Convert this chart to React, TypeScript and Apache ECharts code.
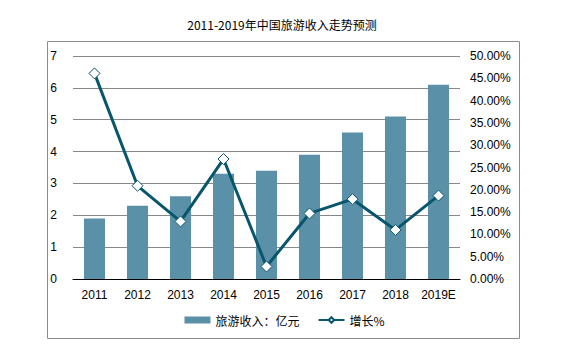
import React, { useEffect, useRef } from "react";
import * as echarts from "echarts";

const categories = ["2011", "2012", "2013", "2014", "2015", "2016", "2017", "2018", "2019E"];
const income = [1.9, 2.3, 2.6, 3.3, 3.4, 3.9, 4.6, 5.1, 6.1];
const growth = [46.1, 20.9, 12.9, 26.9, 2.8, 14.7, 17.9, 11.0, 18.7];

const BAR = "#5b91a8";
const LINE = "#08566e";

export default function App() {
  const ref = useRef<HTMLDivElement>(null);
  useEffect(() => {
    const chart = echarts.init(ref.current!, null, { renderer: "svg" });
    chart.setOption({
      animation: false,
      backgroundColor: "#fff",
      title: {
        text: "2011-2019年中国旅游收入走势预测",
        left: 277,
        textAlign: "center",
        top: 13,
        textStyle: { fontSize: 12, fontWeight: "normal", color: "#000", fontFamily: "SimSun, 'Noto Sans CJK SC', sans-serif" },
      },
      graphic: [
        {
          type: "rect",
          shape: { x: 47.5, y: 41.5, width: 472, height: 297 },
          style: { fill: "none", stroke: "#8c8c8c", lineWidth: 1 },
          silent: true,
        },
      ],
      grid: { left: 73, right: 109, top: 56, bottom: 80 },
      legend: {
        bottom: 28,
        left: "center",
        itemGap: 18,
        textStyle: { fontSize: 12, color: "#000", fontFamily: "'Noto Sans CJK SC', sans-serif" },
        data: [
          { name: "旅游收入：亿元", icon: "rect", itemStyle: { color: BAR } },
          { name: "增长%" },
        ],
        itemWidth: 26,
        itemHeight: 7,
      },
      xAxis: {
        type: "category",
        data: categories,
        axisLine: { lineStyle: { color: "#000", width: 1 } },
        axisTick: { show: false },
        axisLabel: { interval: 0, color: "#000", fontSize: 12, fontFamily: "'Liberation Sans', Arial, sans-serif", margin: 10 },
      },
      yAxis: [
        {
          type: "value",
          min: 0,
          max: 7,
          interval: 1,
          axisLine: { show: false },
          axisTick: { show: false },
          axisLabel: { color: "#000", fontSize: 12, fontFamily: "'Liberation Sans', Arial, sans-serif", margin: 16 },
          splitLine: { lineStyle: { color: "#888", width: 1 } },
        },
        {
          type: "value",
          min: 0,
          max: 50,
          interval: 5,
          axisLine: { show: false },
          axisTick: { show: false },
          splitLine: { show: false },
          axisLabel: {
            color: "#000",
            fontSize: 12,
            fontFamily: "'Liberation Sans', Arial, sans-serif",
            margin: 10,
            formatter: (v: number) => v.toFixed(2) + "%",
          },
        },
      ],
      series: [
        {
          name: "旅游收入：亿元",
          type: "bar",
          data: income,
          barWidth: "49%",
          itemStyle: { color: BAR },
        },
        {
          name: "增长%",
          type: "line",
          yAxisIndex: 1,
          data: growth,
          symbol: "diamond",
          symbolSize: 11,
          lineStyle: { color: LINE, width: 3 },
          itemStyle: { color: "#fff", borderColor: LINE, borderWidth: 1 },
        },
      ],
    });
    return () => chart.dispose();
  }, []);
  return <div ref={ref} style={{ width: 569, height: 359, position: "absolute", left: 0, top: 0 }} />;
}
